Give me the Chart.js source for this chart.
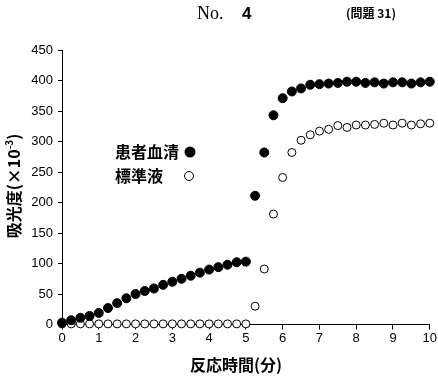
<html>
<head>
<script src="https://cdn.jsdelivr.net/npm/chart.js"></script>
<style>
  body { margin: 0; background: #fff; }
  #wrap { width: 438px; height: 378px; position: relative; }
</style>
</head>
<body>
<div id="wrap"><canvas id="chart"></canvas></div>
<script>
// reaction time (min), one reading every 15 s
const times = [0, 0.25, 0.5, 0.75, 1, 1.25, 1.5, 1.75, 2, 2.25, 2.5, 2.75, 3, 3.25, 3.5, 3.75,
  4, 4.25, 4.5, 4.75, 5, 5.25, 5.5, 5.75, 6, 6.25, 6.5, 6.75, 7, 7.25, 7.5, 7.75,
  8, 8.25, 8.5, 8.75, 9, 9.25, 9.5, 9.75, 10];
// absorbance (x10^-3)
const patientSerum = [3, 7, 11, 14, 19, 27, 35, 43, 50, 55, 59, 65, 70, 75, 80, 85,
  90, 94, 98, 102, 103, 211, 282, 343, 371, 382, 387, 393, 394, 395, 396, 398,
  398, 396, 397, 395, 397, 397, 395, 397, 398];
const standard = [1, 1, 1, 1, 1, 1, 1, 1, 1, 1, 1, 1, 1, 1, 1, 1,
  1, 1, 1, 1, 1, 30, 91, 181, 241, 282, 302, 311, 317, 320, 326, 323,
  327, 327, 328, 330, 327, 330, 327, 329, 330];
const yTicks = [0, 50, 100, 150, 200, 250, 300, 350, 400, 450];
const xTicks = [0, 1, 2, 3, 4, 5, 6, 7, 8, 9, 10];

const seriesNames = ['患者血清', '標準液'];
const header = 'No.';
const headerNum = '4';
const questionNo = '(問題 31)';
const xTitle = '反応時間(分)';
const yTitle = '吸光度(×10';

const cjk = '"Noto Sans CJK JP"';

const overlay = {
  id: 'overlay',
  afterDraw(chart) {
    const ctx = chart.ctx;
    ctx.save();
    ctx.fillStyle = '#000';
    ctx.textBaseline = 'middle';
    // header
    ctx.font = '18px "Liberation Serif"';
    ctx.textAlign = 'left';
    ctx.fillText(header, 197, 14);
    ctx.font = 'bold 17px "Liberation Sans"';
    ctx.fillText(headerNum, 242, 14);
    ctx.font = 'bold 12px ' + cjk;
    ctx.fillText(questionNo, 346, 13);

    // legend
    ctx.font = 'bold 16px ' + cjk;
    ctx.fillText(seriesNames[0], 115, 152);
    ctx.fillText(seriesNames[1], 115, 176);
    ctx.beginPath();
    ctx.arc(190, 152, 5.5, 0, Math.PI * 2);
    ctx.fill();
    ctx.beginPath();
    ctx.arc(189, 176, 4.5, 0, Math.PI * 2);
    ctx.lineWidth = 1;
    ctx.strokeStyle = '#000';
    ctx.stroke();

    // x title
    ctx.font = 'bold 16px ' + cjk;
    ctx.textAlign = 'center';
    ctx.fillText(xTitle, 236, 365);

    // y title, rotated
    ctx.translate(14, 186);
    ctx.rotate(-Math.PI / 2);
    ctx.font = 'bold 16px ' + cjk;
    ctx.textAlign = 'left';
    const w1 = ctx.measureText(yTitle).width;
    ctx.font = 'bold 10px ' + cjk;
    const w2 = ctx.measureText('-3').width;
    ctx.font = 'bold 16px ' + cjk;
    const w3 = ctx.measureText(')').width;
    let x0 = -(w1 + w2 + w3) / 2;
    ctx.fillText(yTitle, x0, 0);
    ctx.font = 'bold 10px ' + cjk;
    ctx.fillText('-3', x0 + w1, -5);
    ctx.font = 'bold 16px ' + cjk;
    ctx.fillText(')', x0 + w1 + w2, 0);
    ctx.restore();
  }
};

new Chart(document.getElementById('chart'), {
  type: 'scatter',
  data: {
    datasets: [
      {
        label: seriesNames[0],
        data: times.map((t, i) => ({ x: t, y: patientSerum[i] })),
        backgroundColor: '#000',
        borderColor: '#000',
        pointRadius: 4.5,
        borderWidth: 1,
        clip: false
      },
      {
        label: seriesNames[1],
        data: times.map((t, i) => ({ x: t, y: standard[i] })),
        backgroundColor: '#fff',
        borderColor: '#000',
        pointRadius: 4,
        borderWidth: 1,
        clip: false
      }
    ]
  },
  options: {
    responsive: true,
    maintainAspectRatio: false,
    animation: false,
    layout: { padding: { top: 50, right: 8, left: 0, bottom: 0 } },
    plugins: {
      legend: { display: false },
      tooltip: { enabled: false }
    },
    scales: {
      x: {
        type: 'linear',
        min: 0,
        max: 10,
        afterFit(scale) { scale.height = 53.5; },
        afterBuildTicks(scale) { scale.ticks = xTicks.map(v => ({ value: v })); },
        border: { display: true, color: '#000', width: 1 },
        grid: { drawOnChartArea: false, drawTicks: true, tickLength: 5, color: '#000' },
        ticks: {
          color: '#000',
          padding: 1,
          maxRotation: 0,
          font: { family: '"Liberation Sans"', size: 13 }
        }
      },
      y: {
        type: 'linear',
        min: 0,
        max: 450,
        afterFit(scale) { scale.width = 62; },
        afterBuildTicks(scale) { scale.ticks = yTicks.map(v => ({ value: v })); },
        border: { display: true, color: '#000', width: 1 },
        grid: { drawOnChartArea: false, drawTicks: true, tickLength: 4, color: '#000' },
        ticks: {
          color: '#000',
          padding: 5,
          font: { family: '"Liberation Sans"', size: 13 }
        }
      }
    }
  },
  plugins: [overlay]
});
</script>
</body>
</html>
